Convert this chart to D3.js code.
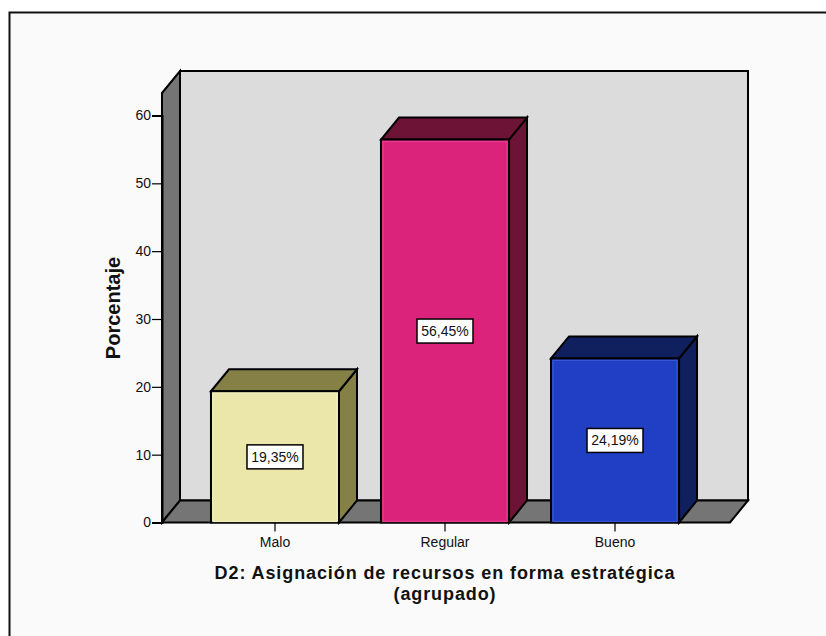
<!DOCTYPE html>
<html>
<head>
<meta charset="utf-8">
<script src="https://cdn.jsdelivr.net/npm/d3@7/dist/d3.min.js"></script>
<style>
html,body{margin:0;padding:0;background:#fff;}
svg{display:block;}
text{font-family:"Liberation Sans",Arial,sans-serif;}
</style>
</head>
<body>
<svg id="chart" width="826" height="636"></svg>
<script>
const categories = ["Malo", "Regular", "Bueno"];
const percentages = [19.35, 56.45, 24.19];
const percentLabels = ["19,35%", "56,45%", "24,19%"];
const yTicks = [0, 10, 20, 30, 40, 50, 60];
const frontColors = ["#ebe7ab", "#dc237c", "#213fc4"];
const bevelColors = ["#f1eebd", "#e63c90", "#3656d6"];
const sideColors = ["#858146", "#6d1336", "#101f5e"];
const xTitleLines = ["D2: Asignación de recursos en forma estratégica", "(agrupado)"];
const yTitle = "Porcentaje";

const svg = d3.select("#chart");
const ink = "#000";

// Oblique offset of the 3D box: how far the back wall sits from the front plane
const depth = {x: 18, y: -22};

const y = d3.scaleLinear().domain([0, 60]).range([522.5, 115.5]);
const x = d3.scaleBand().domain(categories).range([161, 729]).paddingInner(0.247).paddingOuter(0.294);

const floorY = y(0);
const leftX = 162, rightX = 730, ceilingY = 93;

// Chart frame and panel background
svg.append("rect").attr("x", 9.5).attr("y", 12.5).attr("width", 840).attr("height", 640)
  .attr("fill", "#fafafa").attr("stroke", "#111").attr("stroke-width", 2);

const poly = (pts, fill, sw = 2) => svg.append("polygon")
  .attr("points", pts.map(p => p.join(",")).join(" "))
  .attr("fill", fill).attr("stroke", ink).attr("stroke-width", sw).attr("stroke-linejoin", "miter");

// Back wall, left wall, floor
poly([[leftX + depth.x, ceilingY + depth.y], [rightX + depth.x, ceilingY + depth.y],
      [rightX + depth.x, floorY + depth.y], [leftX + depth.x, floorY + depth.y]], "#dcdcdc");
poly([[leftX, ceilingY], [leftX + depth.x, ceilingY + depth.y],
      [leftX + depth.x, floorY + depth.y], [leftX, floorY]], "#757575");
poly([[leftX, floorY], [leftX + depth.x, floorY + depth.y],
      [rightX + depth.x, floorY + depth.y], [rightX, floorY]], "#757575");

// Value axis
const yAxis = svg.append("g").attr("transform", `translate(${leftX},0)`)
  .call(d3.axisLeft(y).tickValues(yTicks).tickSize(10).tickPadding(1).tickFormat(d3.format("d")));
yAxis.select(".domain").attr("stroke", ink).attr("stroke-width", 2);
yAxis.selectAll(".tick line").attr("stroke", ink).attr("stroke-width", 1.2);
yAxis.selectAll(".tick text").attr("font-size", 14).attr("font-family", '"Liberation Sans",Arial,sans-serif').attr("fill", "#111");

// Category axis
const xAxis = svg.append("g").attr("transform", `translate(0,${floorY})`)
  .call(d3.axisBottom(x).tickSize(9).tickPadding(6).tickSizeOuter(0));
xAxis.select(".domain").remove();
xAxis.selectAll(".tick line").attr("stroke", ink).attr("stroke-width", 1.2);
xAxis.selectAll(".tick text").attr("font-size", 14).attr("font-family", '"Liberation Sans",Arial,sans-serif').attr("fill", "#111");
svg.append("line").attr("x1", leftX - 10).attr("x2", rightX).attr("y1", floorY).attr("y2", floorY)
  .attr("stroke", ink).attr("stroke-width", 1.2);

// Bars: side and top faces first, then the front face and its value label
categories.forEach((c, i) => {
  const x0 = x(c), x1 = x0 + x.bandwidth(), top = y(percentages[i]);
  poly([[x1, floorY], [x1 + depth.x, floorY + depth.y], [x1 + depth.x, top + depth.y], [x1, top]], sideColors[i]);
  poly([[x0, top], [x0 + depth.x, top + depth.y], [x1 + depth.x, top + depth.y], [x1, top]], sideColors[i]);
  poly([[x0, top], [x1, top], [x1, floorY], [x0, floorY]], frontColors[i]);
  svg.append("rect").attr("x", x0 + 2).attr("y", top + 2)
    .attr("width", x1 - x0 - 4).attr("height", floorY - top - 3)
    .attr("fill", "none").attr("stroke", bevelColors[i]).attr("stroke-width", 1.2);

  const cx = (x0 + x1) / 2, cy = (top + floorY) / 2;
  svg.append("rect").attr("x", cx - 28).attr("y", cy - 12).attr("width", 56).attr("height", 24)
    .attr("fill", "#fff").attr("stroke", ink).attr("stroke-width", 1.5);
  svg.append("text").attr("x", cx).attr("y", cy + 5).attr("text-anchor", "middle")
    .attr("font-size", 14).attr("fill", "#111").text(percentLabels[i]);
});

// Axis titles
svg.append("text").attr("text-anchor", "middle")
  .attr("transform", "translate(119.5,308) rotate(-90)")
  .attr("font-size", 20).attr("font-weight", "bold").attr("fill", "#111").text(yTitle);
xTitleLines.forEach((line, i) => {
  svg.append("text").attr("x", 445).attr("y", 579 + i * 21).attr("text-anchor", "middle")
    .attr("font-size", 18).attr("letter-spacing", 0.9).attr("font-weight", "bold").attr("fill", "#111").text(line);
});
</script>
</body>
</html>
